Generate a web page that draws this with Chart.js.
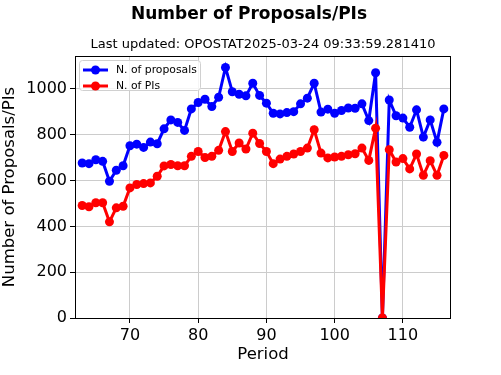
<!DOCTYPE html>
<html>
<head>
<meta charset="utf-8">
<script src="https://cdn.jsdelivr.net/npm/chart.js@4.4.1/dist/chart.umd.min.js"></script>
<style>
  html, body { margin: 0; padding: 0; background: #fff; }
  #wrap { width: 501px; height: 375px; }
</style>
</head>
<body>
<div id="wrap"><canvas id="myChart" width="501" height="375"></canvas></div>
<script>
// data
var periods = [63, 64, 65, 66, 67, 68, 69, 70, 71, 72, 73, 74, 75, 76, 77, 78, 79, 80,
  81, 82, 83, 84, 85, 86, 87, 88, 89, 90, 91, 92, 93, 94, 95, 96, 97, 98, 99, 100,
  101, 102, 103, 104, 105, 106, 107, 108, 109, 110, 111, 112, 113, 114, 115, 116];
var proposals = [677, 674, 691, 684, 597, 645, 665, 752, 759, 745, 768, 761, 826, 865, 854, 819, 913, 941,
  955, 923, 964, 1094, 988, 977, 970, 1025, 972, 938, 894, 891, 897, 901, 935, 960, 1025, 899, 912, 894,
  906, 917, 916, 935, 862, 1071, 0, 952, 883, 873, 833, 909, 790, 865, 767, 913];
var pis = [491, 486, 503, 503, 420, 481, 488, 568, 583, 587, 590, 619, 664, 670, 665, 665, 706, 727,
  701, 706, 732, 814, 727, 764, 738, 807, 762, 727, 674, 694, 706, 716, 727, 742, 822, 720, 699, 703,
  706, 713, 717, 742, 688, 829, 0, 735, 681, 696, 651, 716, 623, 687, 623, 710];
var xTicks = [70, 80, 90, 100, 110];
var yTicks = [0, 200, 400, 600, 800, 1000];

var FONT = "'DejaVu Sans', sans-serif";

function toPoints(xs, ys) {
  return xs.map(function (x, i) { return { x: x, y: ys[i] }; });
}

// titles, frame and the in-plot legend
var decorations = {
  id: 'decorations',
  afterDraw: function (chart) {
    var c = chart.ctx;
    var a = chart.chartArea;
    c.save();
    c.fillStyle = '#000';
    c.textAlign = 'center';
    c.textBaseline = 'middle';
    c.font = 'bold 17px ' + FONT;
    c.fillText('Number of Proposals/PIs', 249, 15);
    c.font = '13px ' + FONT;
    c.fillText('Last updated: OPOSTAT2025-03-24 09:33:59.281410', (a.left + a.right) / 2, 45);
    c.font = '16.5px ' + FONT;
    c.fillText('Period', (a.left + a.right) / 2, 355);
    c.save();
    c.translate(10, (a.top + a.bottom) / 2);
    c.rotate(-Math.PI / 2);
    c.fillText('Number of Proposals/PIs', 0, 0);
    c.restore();

    // frame
    c.strokeStyle = '#000';
    c.lineWidth = 1;
    c.strokeRect(a.left + 0.5, a.top + 0.5, a.right - a.left - 1, a.bottom - a.top);

    // legend
    var bx = 79.5, by = 60.5, bw = 121, bh = 30;
    c.fillStyle = 'rgba(255,255,255,0.8)';
    c.strokeStyle = '#d0d0d0';
    c.beginPath();
    c.roundRect(bx, by, bw, bh, 3);
    c.fill();
    c.stroke();
    c.textAlign = 'left';
    c.font = '10.8px ' + FONT;
    chart.data.datasets.forEach(function (ds, i) {
      var y = 70 + i * 16;
      c.strokeStyle = ds.borderColor;
      c.lineWidth = 3;
      c.beginPath();
      c.moveTo(83, y);
      c.lineTo(108, y);
      c.stroke();
      c.fillStyle = ds.backgroundColor;
      c.beginPath();
      c.arc(95.5, y, 4.5, 0, Math.PI * 2);
      c.fill();
      c.fillStyle = '#000';
      c.fillText(ds.label, 116, y);
    });
    c.restore();
  }
};

var ctx = document.getElementById('myChart').getContext('2d');
var myChart = new Chart(ctx, {
  type: 'line',
  data: {
    datasets: [{
      label: 'N. of proposals',
      data: toPoints(periods, proposals),
      borderColor: '#0000ff',
      backgroundColor: '#0000ff',
      borderWidth: 3,
      pointRadius: 4.5,
      pointBorderWidth: 0,
      order: 2
    }, {
      label: 'N. of PIs',
      data: toPoints(periods, pis),
      borderColor: '#ff0000',
      backgroundColor: '#ff0000',
      borderWidth: 3,
      pointRadius: 4.5,
      pointBorderWidth: 0,
      order: 1
    }]
  },
  options: {
    responsive: false,
    animation: false,
    devicePixelRatio: 1,
    layout: { padding: { top: 56, right: 50, left: 0, bottom: 0 } },
    plugins: {
      legend: { display: false },
      title: { display: false },
      tooltip: { enabled: false }
    },
    scales: {
      x: {
        type: 'linear',
        min: 61.95,
        max: 117.05,
        afterFit: function (s) { s.height = 57; },
        afterBuildTicks: function (s) { s.ticks = xTicks.map(function (v) { return { value: v }; }); },
        grid: { color: '#cccccc', tickColor: '#000', tickLength: 5 },
        border: { display: false },
        ticks: { color: '#000', font: { family: FONT, size: 16 }, padding: 3, maxRotation: 0,
          callback: function (v) { return String(v); } }
      },
      y: {
        min: 0,
        max: 1144,
        afterFit: function (s) { s.width = 75; },
        afterBuildTicks: function (s) { s.ticks = yTicks.map(function (v) { return { value: v }; }); },
        grid: { color: '#cccccc', tickColor: '#000', tickLength: 5 },
        border: { display: false },
        ticks: { color: '#000', font: { family: FONT, size: 16 }, padding: 3,
          callback: function (v) { return String(v); } }
      }
    }
  },
  plugins: [decorations]
});
</script>
</body>
</html>
